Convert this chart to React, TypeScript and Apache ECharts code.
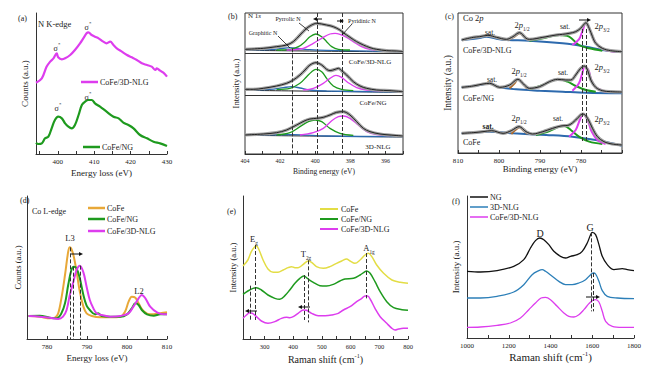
import React, { useEffect, useRef } from 'react';
import * as echarts from 'echarts';

const SERIF = '"Liberation Serif", "Times New Roman", serif';

// ---------- (a) N K-edge ----------
const aTicks = [395, 400, 405, 410, 415, 420, 425, 430];
const aLabels = [400, 410, 420, 430];
const aCoFe3DNLG = [[394,214],[395.6,227],[396.9,262],[397.9,277],[398.8,287],[399.7,302],[400.1,290],[401.1,284],[402,287],[403.4,297],[404.7,312],[406.1,332],[407,347],[407.9,362],[408.4,365],[409.3,357],[410.2,352],[411.2,347],[412.5,337],[413.4,332],[414.4,337],[415.3,327],[416.2,317],[417.6,307],[419,297],[420.3,290],[421.7,282],[423.1,272],[424.5,267],[425.8,262],[426.8,252],[427.2,257],[428.1,250],[429,244],[430,232]];
const aCoFeNG = [[394,34],[394.6,30],[395.6,32],[396.5,47],[397.4,52],[398.3,77],[399.2,102],[400.1,112],[401.1,107],[402,92],[402.9,82],[403.8,77],[404.7,87],[405.7,117],[406.6,147],[407.5,157],[408.4,162],[409.3,162],[410.2,152],[411.6,142],[413.4,127],[415.3,112],[416.7,107],[418,94],[419.4,87],[420.8,77],[422.6,57],[424.5,47],[426.3,37],[428.1,32],[430,24]];

// ---------- (b) N 1s XPS ----------
const bTicks = [395, 396, 397, 398, 399, 400, 401, 402, 403, 404];
const bLabels = [404, 402, 400, 398, 396];
const bTopEnv = [[404,314],[402.96,317],[402.2,322],[401.63,327],[401.25,337],[400.87,357],[400.49,377],[400.2,387],[399.92,392],[399.63,390],[399.35,387],[398.97,382],[398.59,372],[398.4,364],[398.02,350],[397.64,337],[397.26,327],[396.88,319],[396.5,314],[395.93,310],[395.36,309],[395,307]];
const bTopGreen = [[402.2,312],[401.44,314],[400.96,322],[400.58,337],[400.3,352],[399.96,360],[399.63,352],[399.35,337],[399.06,322],[398.68,314],[398.02,312]];
const bTopPink = [[401.63,312],[400.68,317],[400.11,332],[399.54,350],[399.16,360],[398.87,362],[398.59,359],[398.21,350],[397.83,337],[397.36,322],[396.88,314],[396.12,310],[395.36,308]];
const bTopBlue = [[404,312],[402.58,313],[402,316],[401.44,319],[400.87,316],[400.3,313],[399.35,311],[395,307]];
const bTopBase = [[404,311],[395,306]];
const bMidEnv = [[404,194],[403.53,194],[402.96,197],[402.2,204],[401.63,212],[401.25,222],[400.87,237],[400.58,252],[400.3,267],[399.96,274],[399.63,267],[399.35,254],[399.16,250],[398.87,254],[398.68,257],[398.5,250],[398.21,237],[397.83,217],[397.45,204],[397.07,197],[396.5,192],[395.74,190],[395,187]];
const bMidGreen = [[402.2,194],[401.44,197],[400.87,212],[400.49,232],[400.2,247],[399.96,254],[399.63,247],[399.35,227],[398.97,204],[398.5,194],[397.83,190]];
const bMidPink = [[400.68,192],[400.11,197],[399.54,212],[399.16,227],[398.82,236],[398.5,230],[398.12,214],[397.64,199],[397.07,192],[396.12,189]];
const bMidBlue = [[404,192],[402.58,194],[401.82,199],[401.34,202],[400.87,198],[400.3,192],[399.35,189],[395,186]];
const bMidBase = [[404,191],[395,185]];
const bBotEnv = [[404,57],[402.96,60],[402.2,64],[401.63,72],[401.06,87],[400.58,100],[400.3,105],[399.92,107],[399.54,110],[399.16,117],[398.78,125],[398.4,127],[398.02,117],[397.64,97],[397.26,77],[396.88,67],[396.31,60],[395.74,57],[395,54]];
const bBotGreen = [[402.2,57],[401.44,64],[400.87,82],[400.39,97],[400.01,102],[399.63,97],[399.16,77],[398.59,62],[397.83,56]];
const bBotPink = [[400.87,57],[400.11,64],[399.54,77],[399.06,100],[398.68,112],[398.4,114],[398.02,107],[397.55,87],[397.07,67],[396.5,58],[395.74,55]];
const bBotBlue = [[404,57],[401.25,58],[399.35,54],[395,52]];
const bBotBase = [[404,56],[395,51]];
const bDividers = [302, 177];
const bPeakLines = [[401.3, 317], [399.86, 423], [398.44, 423]];

// ---------- (c) Co 2p XPS ----------
const cTicks = [770, 775, 780, 785, 790, 795, 800, 805, 810];
const cLabels = [810, 800, 790, 780];
const cTopEnv = [[809.1,339],[806.3,347],[804.7,349],[802.7,353],[800.6,347],[798.2,341],[796.6,349],[795,361],[793.4,344],[792.6,341],[789.3,347],[786.1,354],[784.5,356],[782.9,359],[781.3,364],[780.1,374],[779.2,387],[778.8,391],[778,374],[777.2,349],[776.4,329],[774.8,314],[772.8,307],[770,304]];
const cTopBlue = [[809.1,339],[804.7,345],[803.1,349],[800.6,343],[798.2,339],[792.6,337],[784.5,329],[778.8,319],[774.8,309],[770,303]];
const cTopBrown = [[797.8,339],[796.2,349],[795,359],[793.8,349],[792.6,339]];
const cTopGreen = [[792.6,337],[789.3,344],[785.3,354],[782.9,349],[780.5,324],[778,314],[774.8,307]];
const cTopPink = [[782.1,324],[780.5,341],[779.7,364],[778.8,389],[778,374],[777.2,349],[776,324],[774,309],[771.6,304]];
const cMidEnv = [[809.1,197],[806.3,201],[803.9,207],[802.3,209],[799.8,197],[797.4,204],[795.4,221],[793.8,204],[792.6,194],[790.1,199],[787.7,214],[785.7,221],[783.7,219],[782.5,219],[781.3,234],[780.1,254],[779.2,261],[778.4,249],[777.6,219],[776.4,197],[774.8,187],[772.8,184],[770,183]];
const cMidBlue = [[809.1,197],[804.7,204],[802.3,209],[799.8,197],[795.8,191],[790.1,187],[784.5,184],[778.8,181],[770,179]];
const cMidBrown = [[797.4,194],[796.2,209],[795.4,221],[794.3,209],[793.2,194]];
const cMidGreen = [[792.6,191],[789.3,204],[786.9,217],[785.3,221],[783.3,214],[781.3,201],[778.8,189],[776.4,184]];
const cMidPink = [[782.1,187],[780.5,209],[779.7,239],[779.1,259],[778.2,249],[777.5,219],[776.4,197],[774,184]];
const cBotEnv = [[809.1,59],[806.3,61],[803.9,64],[801.8,67],[799,59],[797,67],[795.1,79],[793.4,64],[791.8,57],[789.3,64],[786.9,74],[784.9,81],[782.9,84],[781.3,99],[780.1,114],[779.5,117],[778.4,104],[777.2,74],[776,49],[774.4,34],[772.4,27],[770,24]];
const cBotBlue = [[809.1,59],[802.3,64],[796.6,59],[788.5,54],[782.1,49],[776.4,39],[770,22]];
const cBotBrown = [[797,57],[796,69],[795,77],[794,67],[793,57]];
const cBotGreen = [[791,54],[787.7,66],[785.3,79],[784.1,81],[782.5,69],[780.5,49],[778,34],[774.8,27]];
const cBotPink = [[782.9,49],[781.3,69],[780.3,99],[779.5,117],[778.4,99],[777.4,64],[776,39],[774,27]];
const cPeakLines = [[779.8, 372], [778.8, 372]];

// ---------- (d) Co L-edge ----------
const dTicks = [775, 780, 785, 790, 795, 800, 805, 810];
const dLabels = [780, 790, 800, 810];
const dCoFe = [[775.4,69],[778.2,67],[780.7,62],[782,64],[782.8,77],[783.6,122],[784.5,192],[785.3,262],[785.7,275],[786.1,270],[786.7,247],[787.4,202],[788.2,142],[789.1,97],[789.9,77],[791.2,69],[793.3,65],[795.8,65],[798.3,67],[799.5,82],[800.4,112],[801.2,127],[802.1,124],[802.9,107],[804.1,84],[805.8,74],[808.3,77],[810,80]];
const dCoFeNG = [[775.4,69],[778.2,70],[780.7,64],[782.4,62],[783.6,77],[784.5,107],[785.3,162],[786.1,207],[786.7,217],[787.4,212],[788.2,182],[789.1,132],[789.9,100],[790.7,87],[792,74],[792.8,77],[793.7,69],[795.8,67],[798.3,67],[800,74],[801.2,92],[802.1,107],[802.9,102],[803.7,87],[805,74],[806.7,70],[808.3,74],[810,74]];
const dCoFe3DNLG = [[775.4,69],[778.2,67],[780.7,64],[782.8,60],[784,67],[784.9,87],[785.7,132],[786.6,172],[787.4,207],[788.2,220],[789.1,200],[789.9,157],[790.7,117],[791.6,92],[792.4,77],[793.7,72],[795.8,67],[798.3,69],[800.4,77],[801.6,97],[802.9,122],[803.7,132],[804.6,122],[805.8,97],[807.5,80],[809.2,74],[810,74]];
const dPeakLines = [[785.7, 275], [786.6, 217], [788.2, 220]];

// ---------- (e) Raman, low shift ----------
const eTicks = [250, 300, 350, 400, 450, 500, 550, 600, 650, 700, 750, 800];
const eLabels = [300, 400, 500, 600, 700, 800];
const eCoFe = [[225,219],[242,237],[254,262],[266,277],[272,279],[281,267],[295,237],[312,210],[330,200],[347,200],[365,207],[382,214],[394,217],[406,214],[417,214],[435,224],[452,234],[464,230],[481,217],[505,212],[528,217],[551,227],[569,234],[586,240],[598,234],[615,227],[633,237],[650,252],[662,257],[674,247],[691,222],[715,197],[744,177],[773,170],[800,167]];
const eCoFeNG = [[225,134],[242,144],[260,152],[272,154],[289,147],[312,132],[336,122],[353,119],[371,130],[388,147],[406,167],[423,182],[437,189],[452,180],[470,170],[493,160],[516,159],[540,164],[563,174],[580,180],[610,182],[633,192],[650,202],[656,204],[668,197],[685,172],[703,142],[726,112],[750,94],[779,88],[800,86]];
const eCoFe3DNLG = [[225,62],[237,72],[248,79],[258,77],[272,67],[289,54],[312,47],[336,52],[359,62],[377,65],[388,64],[400,67],[417,77],[435,87],[446,86],[464,77],[487,70],[511,70],[534,72],[557,77],[575,87],[598,97],[621,112],[639,122],[650,129],[659,129],[670,117],[685,92],[703,67],[726,47],[744,32],[755,27],[767,30],[784,32],[800,32]];
const ePeakLines = [[266, 282, 57], [251, 160, 57], [437, 192, 57], [452, 236, 50], [656, 258, 122]];

// ---------- (f) Raman, D and G bands ----------
const fTicks = [1000, 1100, 1200, 1300, 1400, 1500, 1600, 1700, 1800];
const fLabels = [1000, 1200, 1400, 1600, 1800];
const fNG = [[1000,202],[1064,200],[1144,204],[1224,217],[1272,237],[1304,272],[1328,294],[1349,302],[1368,297],[1392,282],[1416,262],[1448,247],[1472,242],[1496,247],[1528,252],[1552,262],[1576,287],[1592,312],[1600,319],[1616,312],[1632,282],[1648,247],[1672,222],[1704,207],[1744,210],[1768,207],[1800,204]];
const f3DNLG = [[1000,122],[1064,122],[1144,127],[1224,140],[1272,162],[1312,192],[1344,204],[1360,207],[1376,202],[1408,187],[1440,172],[1472,162],[1504,162],[1536,167],[1568,177],[1592,192],[1605,197],[1616,194],[1632,172],[1648,144],[1672,127],[1720,122],[1800,120]];
const fCoFe3DNLG = [[1000,34],[1064,35],[1144,40],[1208,47],[1256,62],[1296,87],[1328,107],[1355,122],[1376,124],[1400,117],[1432,97],[1464,77],[1488,67],[1512,65],[1536,72],[1560,87],[1584,105],[1600,114],[1616,117],[1632,110],[1648,82],[1664,52],[1696,37],[1744,34],[1800,34]];
const fPeakLines = [[1595, 319, 82], [1607, 197, 82]];

// ---------- colours ----------
const PINK = '#DD3DEE';
const GREEN = '#1E9A1E';
const ORANGE = '#E8A838';
const YELLOW = '#E3DD45';
const BLUE = '#2C7FB8';
const BLUE2 = '#2D6AAE';
const BROWN = '#B06A2A';
const INK = '#222';
const DATA_GREY = '#a0a0a0';

function richSet(size: number) {
  const s = size * 0.62;
  return {
    n: { fontFamily: SERIF, fontSize: size, fontWeight: 'normal', lineHeight: size + 4, fill: INK, color: INK },
    i: { fontFamily: SERIF, fontSize: size, fontWeight: 'normal', fontStyle: 'italic', lineHeight: size + 4, fill: INK, color: INK },
    sb: { fontFamily: SERIF, fontSize: s, fontWeight: 'normal', lineHeight: s + 1, verticalAlign: 'bottom', fill: INK, color: INK },
    sp: { fontFamily: SERIF, fontSize: s, fontWeight: 'normal', lineHeight: s + 1, verticalAlign: 'top', fill: INK, color: INK },
  };
}

function txt(x: number, y: number, text: string, size = 8, align = 'center', extra: any = {}) {
  return {
    type: 'text', x, y, z: 100, silent: true,
    style: { text, fontFamily: SERIF, fontSize: size, fontWeight: 'normal', fill: INK, align, verticalAlign: 'middle', rich: richSet(size), ...extra },
  };
}
function seg(x1: number, y1: number, x2: number, y2: number, color = INK, w = 1) {
  return { type: 'line', z: 100, silent: true, shape: { x1, y1, x2, y2 }, style: { stroke: color, lineWidth: w } };
}
function arrow(x1: number, x2: number, y: number) {
  const d = x2 > x1 ? -4 : 4;
  return [
    seg(x1, y, x2 + d * 0.5, y, '#111', 1),
    { type: 'polygon', z: 100, silent: true, shape: { points: [[x2, y], [x2 + d, y - 2], [x2 + d, y + 2]] }, style: { fill: '#111' } },
  ];
}

function xAxis(gi: number, min: number, max: number, ticks: number[], labels: number[], inverse: boolean, name: string, gap: number, nameSize: number, labelSize = 7) {
  const nameStyle: any = { fontFamily: SERIF, fontSize: nameSize, fontWeight: 'normal', color: INK };
  if (name.indexOf('{') >= 0) {
    nameStyle.lineHeight = nameSize + 4;
    nameStyle.rich = richSet(nameSize);
  }
  return {
    gridIndex: gi, type: 'value', min, max, inverse,
    axisLine: { show: true, onZero: false, lineStyle: { color: '#333', width: 1 } },
    axisTick: { show: true, inside: true, length: 3, customValues: ticks, lineStyle: { color: '#333', width: 1 } },
    axisLabel: { customValues: labels, fontSize: labelSize, fontFamily: SERIF, color: INK, margin: 4, formatter: (v: number) => String(v) },
    splitLine: { show: false },
    name, nameLocation: 'middle', nameGap: gap,
    nameTextStyle: nameStyle,
  };
}
function yAxis(gi: number, min: number, max: number, showLine: boolean, name: string, gap: number, nameSize: number) {
  return {
    gridIndex: gi, type: 'value', min, max,
    axisLine: { show: showLine, onZero: false, lineStyle: { color: '#333', width: 1 } },
    axisTick: { show: false }, axisLabel: { show: false }, splitLine: { show: false },
    name, nameLocation: 'middle', nameGap: gap,
    nameTextStyle: { fontFamily: SERIF, fontSize: nameSize, fontWeight: 'normal', color: INK },
  };
}
function line(gi: number, name: string, data: number[][], color: string, width: number, z = 2, extra: any = {}) {
  return {
    type: 'line', name, xAxisIndex: gi, yAxisIndex: gi, data, smooth: 0.35, showSymbol: false, symbol: 'none',
    lineStyle: { color, width }, itemStyle: { color }, z, silent: true, ...extra,
  };
}
function dashMarks(lines: number[][], extraData: any[] = []) {
  return {
    markLine: {
      silent: true, symbol: ['none', 'none'], label: { show: false },
      lineStyle: { type: 'dashed', color: '#333', width: 1 },
      data: [
        ...lines.map((l) => [{ coord: [l[0], l[1]] }, { coord: [l[0], l.length > 2 ? l[2] : 0] }]),
        ...extraData,
      ],
    },
  };
}

export default function App() {
  const ref = useRef<HTMLDivElement>(null);
  useEffect(() => {
    if (!ref.current) return;
    const chart = echarts.init(ref.current, null, { renderer: 'svg' });
    const option: any = {
      animation: false,
      backgroundColor: '#fff',
      grid: [
        { left: 36, top: 13, width: 131, height: 141 },
        { left: 245, top: 13, width: 158, height: 141, show: true, borderColor: '#333', borderWidth: 1 },
        { left: 458, top: 13, width: 164, height: 140, show: true, borderColor: '#333', borderWidth: 1 },
        { left: 27, top: 196, width: 140, height: 143 },
        { left: 243, top: 196, width: 165, height: 143 },
        { left: 467, top: 196, width: 167, height: 142 },
      ],
      xAxis: [
        xAxis(0, 394, 430, aTicks, aLabels, false, 'Energy loss (eV)', 14, 9),
        xAxis(1, 395, 404, bTicks, bLabels, true, 'Binding energy (eV)', 13, 7.5, 6),
        xAxis(2, 770, 810, cTicks, cLabels, true, 'Binding energy (eV)', 11, 9),
        xAxis(3, 775, 810, dTicks, dLabels, false, 'Energy loss (eV)', 14, 9),
        xAxis(4, 225, 800, eTicks, eLabels, false, 'Raman shift (cm{sp|-1})', 13, 10, 6.5),
        xAxis(5, 1000, 1800, fTicks, fLabels, false, 'Raman shift (cm{sp|-1})', 11, 11),
      ],
      yAxis: [
        yAxis(0, 0, 423, true, 'Counts (a.u.)', 7, 9),
        yAxis(1, 0, 423, false, 'Intensity (a.u.)', 5, 8.5),
        yAxis(2, 0, 420, false, 'Intensity (a.u.)', 5, 9.5),
        yAxis(3, 0, 429, true, 'Counts (a.u.)', 5, 8.5),
        yAxis(4, 0, 429, true, 'Intensity (a.u.)', 6, 8.5),
        yAxis(5, 2, 428, true, 'Intensity (a.u.)', 7, 9),
      ],
      series: [
        // (a)
        line(0, 'CoFe/3D-NLG', aCoFe3DNLG, PINK, 2.2),
        line(0, 'CoFe/NG', aCoFeNG, GREEN, 2.2),
        // (b)
        line(1, 'Top baseline', bTopBase, INK, 1),
        line(1, 'Top graphitic', bTopBlue, BLUE2, 1.3),
        line(1, 'Top pyrrolic', bTopGreen, GREEN, 1.3),
        line(1, 'Top pyridinic', bTopPink, PINK, 1.3),
        line(1, 'Top data', bTopEnv, DATA_GREY, 3.2, 3),
        line(1, 'Top fit', bTopEnv, INK, 1, 4),
        line(1, 'Mid baseline', bMidBase, INK, 1),
        line(1, 'Mid graphitic', bMidBlue, BLUE2, 1.3),
        line(1, 'Mid pyrrolic', bMidGreen, GREEN, 1.3),
        line(1, 'Mid pyridinic', bMidPink, PINK, 1.3),
        line(1, 'Mid data', bMidEnv, DATA_GREY, 3.2, 3),
        line(1, 'Mid fit', bMidEnv, INK, 1, 4),
        line(1, 'Bot baseline', bBotBase, INK, 1),
        line(1, 'Bot graphitic', bBotBlue, BLUE2, 1.3),
        line(1, 'Bot pyrrolic', bBotGreen, GREEN, 1.3),
        line(1, 'Bot pyridinic', bBotPink, PINK, 1.3),
        line(1, 'Bot data', bBotEnv, DATA_GREY, 3.2, 3),
        line(1, 'Bot fit', bBotEnv, INK, 1, 4,
          dashMarks(bPeakLines, bDividers.map((v) => ({ yAxis: v, lineStyle: { type: 'solid', color: '#333', width: 1 } })))),
        // (c)
        line(2, 'Top bg', cTopBlue, BLUE2, 2),
        line(2, 'Top 2p1/2', cTopBrown, BROWN, 2),
        line(2, 'Top sat', cTopGreen, GREEN, 2),
        line(2, 'Top 2p3/2', cTopPink, PINK, 2),
        line(2, 'Top data', cTopEnv, DATA_GREY, 3.2, 3),
        line(2, 'Top fit', cTopEnv, INK, 1, 4),
        line(2, 'Mid bg', cMidBlue, BLUE2, 2),
        line(2, 'Mid 2p1/2', cMidBrown, BROWN, 2),
        line(2, 'Mid sat', cMidGreen, GREEN, 2),
        line(2, 'Mid 2p3/2', cMidPink, PINK, 2),
        line(2, 'Mid data', cMidEnv, DATA_GREY, 3.2, 3),
        line(2, 'Mid fit', cMidEnv, INK, 1, 4),
        line(2, 'Bot bg', cBotBlue, BLUE2, 2),
        line(2, 'Bot 2p1/2', cBotBrown, BROWN, 2),
        line(2, 'Bot sat', cBotGreen, GREEN, 2),
        line(2, 'Bot 2p3/2', cBotPink, PINK, 2),
        line(2, 'Bot data', cBotEnv, DATA_GREY, 3.2, 3),
        line(2, 'Bot fit', cBotEnv, INK, 1, 4, dashMarks(cPeakLines.map((l) => [l[0], l[1], 30]))),
        // (d)
        line(3, 'CoFe', dCoFe, ORANGE, 2),
        line(3, 'CoFe/NG', dCoFeNG, GREEN, 2),
        line(3, 'CoFe/3D-NLG', dCoFe3DNLG, PINK, 2, 3, dashMarks(dPeakLines)),
        // (e)
        line(4, 'CoFe', eCoFe, YELLOW, 1.5),
        line(4, 'CoFe/NG', eCoFeNG, GREEN, 1.5),
        line(4, 'CoFe/3D-NLG', eCoFe3DNLG, PINK, 1.5, 3, dashMarks(ePeakLines)),
        // (f)
        line(5, 'NG', fNG, '#111', 1.3),
        line(5, '3D-NLG', f3DNLG, BLUE, 1.3),
        line(5, 'CoFe/3D-NLG', fCoFe3DNLG, PINK, 1.3, 3, dashMarks(fPeakLines)),
      ],
      graphic: [
        // (a)
        txt(18, 18, '(a)', 8, 'left'),
        txt(38, 24, 'N K-edge', 8.5, 'left'),
        txt(57, 48, '{n|σ}{sp|*}', 8),
        txt(88, 27, '{n|σ}{sp|*}', 8),
        txt(58, 108, '{n|σ}{sp|*}', 8),
        txt(88, 97, '{n|σ}{sp|*}', 8),
        seg(81, 82, 98, 82, PINK, 2.5),
        txt(100, 82, 'CoFe/3D-NLG', 8, 'left'),
        seg(83, 147, 100, 147, GREEN, 2.5),
        txt(102, 147, 'CoFe/NG', 8, 'left'),
        // (b)
        txt(228, 16, '(b)', 8, 'left'),
        txt(248, 16, '{n|N 1}{i|s}', 7, 'left'),
        txt(288, 19, 'Pyrrolic N', 6),
        txt(362, 21, 'Pyridinic N', 6),
        txt(263, 33, 'Graphitic N', 6),
        seg(278, 36, 290, 48, '#111', 0.8),
        seg(299, 23, 309, 31, '#111', 0.8),
        seg(352, 24, 342, 35, '#111', 0.8),
        ...arrow(322, 313, 19),
        ...arrow(337, 344, 21),
        txt(370, 62, 'CoFe/3D-NLG', 7),
        txt(373, 103, 'CoFe/NG', 7),
        txt(378, 147, '3D-NLG', 7),
        // (c)
        txt(445, 16, '(c)', 8, 'left'),
        txt(463, 18, '{n|Co 2}{i|p}', 8.5, 'left'),
        txt(490, 32, 'sat.', 7.5),
        txt(522, 25, '{n|2}{i|p}{sb|1/2}', 8.5),
        txt(565, 26, 'sat.', 7.5),
        txt(602, 26, '{n|2}{i|p}{sb|3/2}', 8.5),
        txt(492, 79, 'sat.', 7.5),
        txt(519, 71, '{n|2}{i|p}{sb|1/2}', 8.5),
        txt(563, 72, 'sat.', 7.5),
        txt(602, 67, '{n|2}{i|p}{sb|3/2}', 8.5),
        txt(488, 126, 'sat.', 7.5, 'center', { fontWeight: 'bold' }),
        txt(519, 118, '{n|2}{i|p}{sb|1/2}', 8.5),
        txt(558, 118, 'sat.', 7.5),
        txt(602, 119, '{n|2}{i|p}{sb|3/2}', 8.5),
        txt(463, 50, 'CoFe/3D-NLG', 8, 'left'),
        txt(463, 98, 'CoFe/NG', 8, 'left'),
        txt(463, 142, 'CoFe', 8, 'left'),
        ...arrow(579, 591, 20),
        // (d)
        txt(20, 200, '(d)', 8, 'left'),
        txt(32, 211, 'Co L-edge', 8, 'left'),
        txt(70, 238, 'L3', 8.5),
        txt(139, 291, 'L2', 8.5),
        ...arrow(71, 83, 254),
        seg(88, 208, 105, 208, ORANGE, 2.5),
        txt(107, 208, 'CoFe', 8, 'left'),
        seg(88, 219, 105, 219, GREEN, 2.5),
        txt(107, 219, 'CoFe/NG', 8, 'left'),
        seg(88, 231, 105, 231, PINK, 2.5),
        txt(107, 231, 'CoFe/3D-NLG', 8, 'left'),
        // (e)
        txt(227, 211, '(e)', 8, 'left'),
        txt(254, 239, '{n|E}{sb|g}', 8.5),
        txt(306, 254, '{n|T}{sb|2g}', 8.5),
        txt(369, 248, '{n|A}{sb|1g}', 8.5),
        ...arrow(257, 245, 311),
        ...arrow(310, 298, 307),
        seg(320, 209, 338, 209, YELLOW, 2),
        txt(341, 209, 'CoFe', 8, 'left'),
        seg(320, 219, 338, 219, GREEN, 2),
        txt(341, 219, 'CoFe/NG', 8, 'left'),
        seg(320, 229, 338, 229, PINK, 2),
        txt(341, 229, 'CoFe/3D-NLG', 8, 'left'),
        // (f)
        txt(452, 201, '(f)', 8, 'left'),
        seg(470, 197, 488, 197, '#111', 1.5),
        txt(490, 197, 'NG', 8, 'left'),
        seg(470, 207, 488, 207, BLUE, 1.5),
        txt(490, 207, '3D-NLG', 8, 'left'),
        seg(470, 217, 488, 217, PINK, 1.5),
        txt(490, 217, 'CoFe/3D-NLG', 8, 'left'),
        txt(540, 233, 'D', 10),
        txt(590, 227, 'G', 10),
        ...arrow(586, 600, 297),
      ],
    };
    chart.setOption(option);
    return () => chart.dispose();
  }, []);
  return <div ref={ref} style={{ position: 'absolute', left: 0, top: 0, width: 652, height: 371 }} />;
}
